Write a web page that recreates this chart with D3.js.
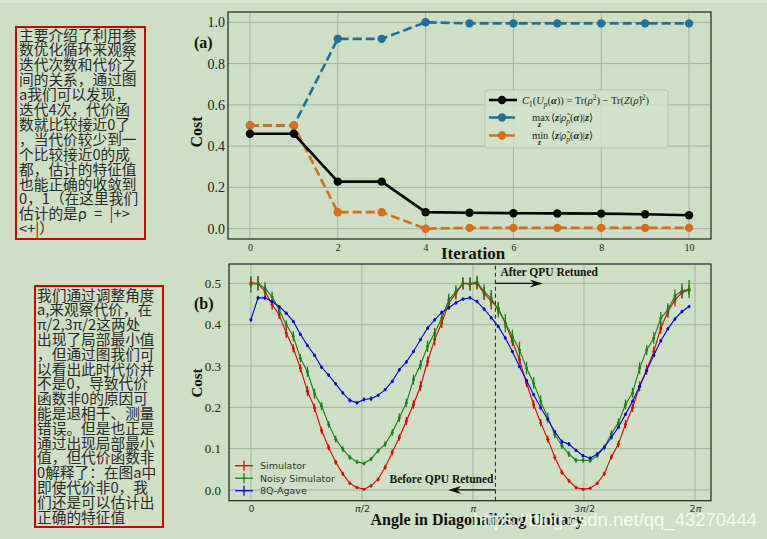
<!DOCTYPE html>
<html>
<head>
<meta charset="utf-8">
<script src="https://cdn.jsdelivr.net/npm/d3@7"></script>
<style>
  html, body { margin: 0; padding: 0; background: #cedfc5; }
  svg { display: block; }
</style>
</head>
<body>
<div id="chart"></div>
<script>
// ---- panel (a): cost vs iteration ----
const iterations = [0, 1, 2, 3, 4, 5, 6, 7, 8, 9, 10];
const costC1 = [0.46, 0.46, 0.228, 0.228, 0.080, 0.077, 0.075, 0.074, 0.073, 0.070, 0.065];
const costMax = [0.50, 0.50, 0.92, 0.92, 1.00, 0.995, 0.995, 0.995, 0.995, 0.995, 0.995];
const costMin = [0.50, 0.50, 0.080, 0.080, 0.000, 0.004, 0.004, 0.004, 0.004, 0.004, 0.004];
const xTicksA = [0, 2, 4, 6, 8, 10];
const yTicksA = [0, 0.2, 0.4, 0.6, 0.8, 1.0];

// ---- panel (b): cost vs angle ----
const angles = [0, 0.1, 0.2, 0.3, 0.4, 0.5, 0.6, 0.7, 0.8, 0.9, 1.0, 1.1, 1.2, 1.3, 1.4, 1.5,
  1.6, 1.7, 1.8, 1.9, 2.0, 2.1, 2.2, 2.3, 2.4, 2.5, 2.6, 2.7, 2.8, 2.9, 3.0, 3.1, 3.2, 3.3,
  3.4, 3.5, 3.6, 3.7, 3.8, 3.9, 4.0, 4.1, 4.2, 4.3, 4.4, 4.5, 4.6, 4.7, 4.8, 4.9, 5.0, 5.1,
  5.2, 5.3, 5.4, 5.5, 5.6, 5.7, 5.8, 5.9, 6.0, 6.1, 6.2];
const simCost = [0.502, 0.500, 0.480, 0.449, 0.424, 0.380, 0.343, 0.295, 0.239, 0.199, 0.144,
  0.103, 0.067, 0.039, 0.016, 0.006, 0.002, 0.010, 0.026, 0.055, 0.091, 0.127, 0.167, 0.207,
  0.251, 0.311, 0.364, 0.404, 0.452, 0.476, 0.500, 0.498, 0.500, 0.476, 0.457, 0.440, 0.404,
  0.360, 0.315, 0.259, 0.207, 0.163, 0.123, 0.079, 0.043, 0.022, 0.006, 0.002, 0.004, 0.016,
  0.039, 0.080, 0.111, 0.159, 0.199, 0.251, 0.291, 0.335, 0.392, 0.432, 0.460, 0.478, 0.484];
const simErr = [0.012, 0.018, 0.015, 0.012, 0.010, 0.012, 0.010, 0.010, 0.012, 0.010, 0.008,
  0.007, 0.006, 0.005, 0.004, 0.003, 0.003, 0.004, 0.005, 0.006, 0.007, 0.008, 0.010, 0.010,
  0.012, 0.012, 0.014, 0.012, 0.015, 0.015, 0.014, 0.016, 0.015, 0.016, 0.020, 0.015, 0.012,
  0.012, 0.010, 0.010, 0.010, 0.009, 0.008, 0.007, 0.006, 0.005, 0.004, 0.003, 0.003, 0.004,
  0.005, 0.006, 0.008, 0.010, 0.010, 0.012, 0.012, 0.012, 0.014, 0.015, 0.015, 0.014, 0.012];
const noisyCost = [0.498, 0.500, 0.488, 0.468, 0.436, 0.400, 0.372, 0.319, 0.286, 0.233, 0.203,
  0.159, 0.123, 0.099, 0.079, 0.068, 0.064, 0.075, 0.095, 0.111, 0.139, 0.175, 0.211, 0.267,
  0.303, 0.348, 0.380, 0.416, 0.460, 0.480, 0.500, 0.500, 0.503, 0.480, 0.464, 0.436, 0.404,
  0.372, 0.339, 0.295, 0.259, 0.215, 0.175, 0.135, 0.107, 0.087, 0.072, 0.072, 0.071, 0.083,
  0.103, 0.136, 0.163, 0.207, 0.235, 0.295, 0.339, 0.368, 0.416, 0.436, 0.470, 0.482, 0.486];
const noisyErr = [0.020, 0.016, 0.015, 0.012, 0.012, 0.010, 0.012, 0.010, 0.012, 0.012, 0.010,
  0.008, 0.008, 0.007, 0.006, 0.005, 0.005, 0.005, 0.006, 0.007, 0.008, 0.010, 0.010, 0.012,
  0.012, 0.014, 0.012, 0.014, 0.015, 0.016, 0.015, 0.015, 0.016, 0.018, 0.020, 0.018, 0.022,
  0.016, 0.020, 0.015, 0.014, 0.014, 0.012, 0.010, 0.008, 0.007, 0.006, 0.006, 0.005, 0.006,
  0.007, 0.008, 0.010, 0.012, 0.012, 0.014, 0.012, 0.014, 0.015, 0.016, 0.016, 0.018, 0.022];
const agaveCost = [0.412, 0.465, 0.465, 0.456, 0.444, 0.428, 0.408, 0.377, 0.350, 0.326, 0.297,
  0.278, 0.257, 0.235, 0.217, 0.211, 0.219, 0.221, 0.229, 0.243, 0.263, 0.291, 0.310, 0.335,
  0.364, 0.392, 0.412, 0.430, 0.441, 0.453, 0.462, 0.465, 0.456, 0.438, 0.417, 0.396, 0.368,
  0.335, 0.299, 0.265, 0.231, 0.199, 0.171, 0.141, 0.117, 0.111, 0.096, 0.083, 0.077, 0.087,
  0.103, 0.127, 0.152, 0.183, 0.215, 0.251, 0.289, 0.326, 0.361, 0.390, 0.414, 0.432, 0.444];
const agaveErr = [0.004, 0.005, 0.005, 0.004, 0.004, 0.004, 0.004, 0.004, 0.004, 0.004, 0.004,
  0.004, 0.004, 0.004, 0.005, 0.004, 0.005, 0.006, 0.004, 0.004, 0.004, 0.004, 0.004, 0.004,
  0.004, 0.004, 0.004, 0.004, 0.004, 0.004, 0.004, 0.004, 0.004, 0.004, 0.004, 0.004, 0.004,
  0.004, 0.004, 0.004, 0.004, 0.004, 0.004, 0.004, 0.005, 0.005, 0.004, 0.004, 0.004, 0.004,
  0.004, 0.004, 0.004, 0.004, 0.004, 0.004, 0.004, 0.004, 0.004, 0.004, 0.004, 0.004, 0.004];
const xTicksB = [0, Math.PI / 2, Math.PI, 3 * Math.PI / 2, 2 * Math.PI];
const xTickLabelsB = ['0', 'π/2', 'π', '3π/2', '2π'];
const yTicksB = [0, 0.1, 0.2, 0.3, 0.4, 0.5];
const retuneAngle = 3.46;

// ---- side notes ----
const noteA = [
  '主要介绍了利用参', '数优化循环来观察', '迭代次数和代价之', '间的关系，通过图',
  'a我们可以发现，', '迭代4次，代价函', '数就比较接近0了', '，当代价较少到一',
  '个比较接近0的成', '都，估计的特征值', '也能正确的收敛到', '0，1（在这里我们',
  '估计的是ρ\u2002=\u2002|+>', '<+|）'
];
const noteB = [
  '我们通过调整角度', 'a,来观察代价，在', 'π/2,3π/2这两处', '出现了局部最小值',
  '，但通过图我们可', '以看出此时代价并', '不是0，导致代价', '函数非0的原因可',
  '能是退相干、测量', '错误。但是也正是', '通过出现局部最小', '值，但代价函数非',
  '0解释了：在图a中', '即使代价非0，我', '们还是可以估计出', '正确的特征值'
];

const W = 767, H = 539;
const BG = '#cedfc5';
const GRID = '#a3b29d';
const SERIF = '"Liberation Serif", "DejaVu Serif", serif';
const SANS = '"DejaVu Sans", sans-serif';
const CJK = '"Noto Sans CJK SC", sans-serif';
const BLUE = '#21709c', ORANGE = '#d66e1b';
const RED = '#e00000', GREEN = '#158015', DBLUE = '#0000e0';

const svg = d3.select('#chart').append('svg')
  .attr('width', W)
  .attr('height', H);

svg.append('rect').attr('width', W).attr('height', H).attr('fill', BG);
svg.append('rect').attr('width', W).attr('height', 3).attr('fill', '#dde7d6');

// Note boxes
function noteBox(box, lines, tx, ty, lh) {
  svg.append('rect')
    .attr('x', box[0]).attr('y', box[1])
    .attr('width', box[2]).attr('height', box[3])
    .attr('fill', 'none')
    .attr('stroke', '#d10000')
    .attr('stroke-width', 2);
  const t = svg.append('text')
    .attr('font-family', CJK)
    .attr('font-size', 14.7)
    .attr('fill', '#2a2a2a')
    .style('white-space', 'pre');
  lines.forEach((ln, i) => {
    const row = t.append('tspan').attr('x', tx).attr('y', ty + i * lh);
    ln.split('|').forEach((part, j) => {
      if (j > 0) row.append('tspan').attr('fill', '#c00000').text('|');
      if (part) row.append('tspan').text(part);
    });
  });
}
noteBox([16, 27, 129, 212], noteA, 19, 40.5, 14.9);
noteBox([35, 286, 128, 241], noteB, 37, 300.5, 14.8);

// ================= Panel (a) =================
const xA = d3.scaleLinear().domain([-0.5, 10.5]).range([228, 711]);
const yA = d3.scaleLinear().domain([-0.05, 1.05]).range([239, 12]);

const gA = svg.append('g');

gA.selectAll('.gv').data(xTicksA).enter().append('line')
  .attr('x1', d => xA(d)).attr('x2', d => xA(d))
  .attr('y1', yA.range()[0]).attr('y2', yA.range()[1])
  .attr('stroke', GRID).attr('stroke-width', 1);
gA.selectAll('.gh').data(yTicksA).enter().append('line')
  .attr('x1', xA.range()[0]).attr('x2', xA.range()[1])
  .attr('y1', d => yA(d)).attr('y2', d => yA(d))
  .attr('stroke', GRID).attr('stroke-width', 1);

gA.append('g')
  .attr('transform', `translate(${xA.range()[0]},0)`)
  .call(d3.axisLeft(yA).tickValues(yTicksA).tickFormat(d3.format('.1f')).tickSize(0).tickPadding(3))
  .call(g => g.select('.domain').remove())
  .call(g => g.selectAll('text').attr('font-family', SERIF).style('font-size', '14px').attr('fill', '#222'));

gA.append('g')
  .attr('transform', `translate(0,${yA.range()[0]})`)
  .call(d3.axisBottom(xA).tickValues(xTicksA).tickSize(0).tickPadding(5))
  .call(g => g.select('.domain').remove())
  .call(g => g.selectAll('text').attr('font-family', SERIF).style('font-size', '10px').attr('fill', '#222'));

const seriesA = [
  { vals: costMax, color: BLUE, dash: '9,4' },
  { vals: costMin, color: ORANGE, dash: '9,4' },
  { vals: costC1, color: '#000', dash: null }
];
const lineA = d3.line().x((d, i) => xA(iterations[i])).y(d => yA(d));
seriesA.forEach(s => {
  gA.append('path')
    .datum(s.vals)
    .attr('d', lineA)
    .attr('fill', 'none')
    .attr('stroke', s.color)
    .attr('stroke-width', 2.6)
    .attr('stroke-dasharray', s.dash);
  gA.selectAll(null).data(s.vals).enter().append('circle')
    .attr('cx', (d, i) => xA(iterations[i]))
    .attr('cy', d => yA(d))
    .attr('r', 4.2)
    .attr('fill', s.color);
});

gA.append('rect')
  .attr('x', xA.range()[0]).attr('y', yA.range()[1])
  .attr('width', xA.range()[1] - xA.range()[0])
  .attr('height', yA.range()[0] - yA.range()[1])
  .attr('fill', 'none').attr('stroke', '#222').attr('stroke-width', 1.2);

gA.append('text')
  .attr('x', 473).attr('y', 259)
  .attr('text-anchor', 'middle')
  .attr('font-family', SERIF).attr('font-weight', 'bold').attr('font-size', 17)
  .attr('fill', '#111').text('Iteration');
gA.append('text')
  .attr('transform', 'translate(202,132) rotate(-90)')
  .attr('text-anchor', 'middle')
  .attr('font-family', SERIF).attr('font-weight', 'bold').attr('font-size', 16)
  .attr('fill', '#111').text('Cost');
gA.append('text')
  .attr('x', 194).attr('y', 48)
  .attr('font-family', SERIF).attr('font-weight', 'bold').attr('font-size', 16)
  .attr('fill', '#111').text('(a)');

// math-ish text helper
function mathText(g, x, y, segs, size) {
  const t = g.append('text').attr('x', x).attr('y', y)
    .attr('font-family', SERIF).attr('font-size', size).attr('fill', '#222');
  let cur = 0;
  segs.forEach(s => {
    const shift = s.s === 'sub' ? size * 0.3 : s.s === 'sup' ? -size * 0.38 : 0;
    t.append('tspan')
      .attr('dy', shift - cur)
      .attr('font-style', s.i ? 'italic' : null)
      .attr('font-weight', s.b ? 'bold' : null)
      .attr('font-size', s.s ? size * 0.7 : null)
      .text(s.t);
    cur = shift;
  });
  return t;
}

// legend (a)
const legA = gA.append('g');
legA.append('rect')
  .attr('x', 485).attr('y', 90).attr('width', 183).attr('height', 58).attr('rx', 3)
  .attr('fill', '#d3e2ca').attr('fill-opacity', 0.8)
  .attr('stroke', '#b8c5b0').attr('stroke-width', 1);
const legRows = [
  { color: '#000', dash: null, y: 100 },
  { color: BLUE, dash: '11,4', y: 117.5 },
  { color: ORANGE, dash: '11,4', y: 135.5 }
];
legRows.forEach(r => {
  legA.append('line')
    .attr('x1', 489).attr('x2', 517).attr('y1', r.y).attr('y2', r.y)
    .attr('stroke', r.color).attr('stroke-width', 2.6)
    .attr('stroke-dasharray', r.dash);
  legA.append('circle').attr('cx', 502).attr('cy', r.y).attr('r', 4.2).attr('fill', r.color);
});
mathText(legA, 522, 103.5, [
  { t: 'C', i: 1 }, { t: '1', s: 'sub' }, { t: '(' }, { t: 'U', i: 1 }, { t: 'p', i: 1, s: 'sub' },
  { t: '(' }, { t: 'α', i: 1, b: 1 }, { t: ')) = Tr(' }, { t: 'ρ', i: 1 }, { t: '2', s: 'sup' },
  { t: ') − Tr(' }, { t: 'Z', i: 1 }, { t: '(' }, { t: 'ρ̃', i: 1 }, { t: ')' }, { t: '2', s: 'sup' }, { t: ')' }
], 10.5);
[['max', 120.5], ['min', 139]].forEach(([op, y]) => {
  legA.append('text').attr('x', 532).attr('y', y)
    .attr('font-family', SERIF).attr('font-size', 10.5).attr('fill', '#222').text(op);
  legA.append('text').attr('x', 538).attr('y', y + 6)
    .attr('font-family', SERIF).attr('font-size', 7.5).attr('font-style', 'italic')
    .attr('font-weight', 'bold').attr('fill', '#222').text('z');
  mathText(legA, 551, y, [
    { t: '⟨' }, { t: 'z', i: 1, b: 1 }, { t: '|' }, { t: 'ρ̃', i: 1 }, { t: 'p', i: 1, s: 'sub' },
    { t: '(' }, { t: 'α', i: 1, b: 1 }, { t: ')|' }, { t: 'z', i: 1, b: 1 }, { t: '⟩' }
  ], 10.5);
});

// ================= Panel (b) =================
const xB = d3.scaleLinear().domain([-0.31, 6.51]).range([229, 711]);
const yB = d3.scaleLinear().domain([-0.026, 0.547]).range([500.7, 264]);

const gB = svg.append('g');

gB.selectAll('.gv').data(xTicksB).enter().append('line')
  .attr('x1', d => xB(d)).attr('x2', d => xB(d))
  .attr('y1', yB.range()[0]).attr('y2', yB.range()[1])
  .attr('stroke', GRID).attr('stroke-width', 1);
gB.selectAll('.gh').data(yTicksB).enter().append('line')
  .attr('x1', xB.range()[0]).attr('x2', xB.range()[1])
  .attr('y1', d => yB(d)).attr('y2', d => yB(d))
  .attr('stroke', GRID).attr('stroke-width', 1);

gB.append('g')
  .attr('transform', `translate(${xB.range()[0]},0)`)
  .call(d3.axisLeft(yB).tickValues(yTicksB).tickFormat(d3.format('.1f')).tickSize(0).tickPadding(8))
  .call(g => g.select('.domain').remove())
  .call(g => g.selectAll('text').attr('font-family', SERIF).style('font-size', '13px').attr('fill', '#222'));

const axB = gB.append('g')
  .attr('transform', `translate(0,${yB.range()[0]})`)
  .call(d3.axisBottom(xB).tickValues(xTicksB).tickFormat('').tickSize(0))
  .call(g => g.select('.domain').remove());
axB.selectAll('.tick').each(function (d, i) {
  const t = d3.select(this).select('text')
    .attr('y', 11).attr('dy', null)
    .attr('font-family', SANS).style('font-size', '9.5px').attr('fill', '#333');
  xTickLabelsB[i].split(/(π)/).forEach(p => {
    if (p) t.append('tspan').attr('font-style', p === 'π' ? 'italic' : null).text(p);
  });
});

// retune marker
gB.append('line')
  .attr('x1', xB(retuneAngle)).attr('x2', xB(retuneAngle))
  .attr('y1', yB.range()[0]).attr('y2', yB.range()[1])
  .attr('stroke', '#333').attr('stroke-width', 1.1).attr('stroke-dasharray', '4,3');

const seriesB = [
  { vals: simCost, err: simErr, color: RED, name: 'Simulator' },
  { vals: noisyCost, err: noisyErr, color: GREEN, name: 'Noisy Simulator' },
  { vals: agaveCost, err: agaveErr, color: DBLUE, name: '8Q-Agave' }
];
const lineB = d3.line().x((d, i) => xB(angles[i])).y(d => yB(d));
seriesB.forEach(s => {
  gB.append('path')
    .datum(s.vals)
    .attr('d', lineB)
    .attr('fill', 'none')
    .attr('stroke', s.color)
    .attr('stroke-width', 1.1);
  gB.selectAll(null).data(s.vals).enter().append('line')
    .attr('x1', (d, i) => xB(angles[i])).attr('x2', (d, i) => xB(angles[i]))
    .attr('y1', (d, i) => yB(d - s.err[i])).attr('y2', (d, i) => yB(d + s.err[i]))
    .attr('stroke', s.color).attr('stroke-width', 1.3);
  gB.selectAll(null).data(s.vals).enter().append('circle')
    .attr('cx', (d, i) => xB(angles[i]))
    .attr('cy', d => yB(d))
    .attr('r', 1.5)
    .attr('fill', s.color);
});

// annotation arrows
function arrow(x1, x2, y) {
  const dir = Math.sign(x2 - x1);
  gB.append('line')
    .attr('x1', x1).attr('x2', x2 - dir * 6).attr('y1', y).attr('y2', y)
    .attr('stroke', '#111').attr('stroke-width', 1.3);
  gB.append('path')
    .attr('d', `M${x2},${y} L${x2 - dir * 13},${y - 4} L${x2 - dir * 9},${y} L${x2 - dir * 13},${y + 4} Z`)
    .attr('fill', '#111');
}
arrow(xB(retuneAngle), xB(4.13), yB(0.5));
arrow(xB(retuneAngle), xB(2.79), yB(0));
gB.append('text')
  .attr('x', xB(retuneAngle) + 5).attr('y', 275.5)
  .attr('font-family', SERIF).attr('font-weight', 'bold').attr('font-size', 11.5)
  .attr('fill', '#111').text('After QPU Retuned');
gB.append('text')
  .attr('x', xB(retuneAngle) - 2).attr('y', 483)
  .attr('text-anchor', 'end')
  .attr('font-family', SERIF).attr('font-weight', 'bold').attr('font-size', 11.5)
  .attr('fill', '#111').text('Before QPU Retuned');

// legend (b)
seriesB.forEach((s, i) => {
  const y = 465.7 + i * 12.5;
  gB.append('line').attr('x1', 235).attr('x2', 253).attr('y1', y).attr('y2', y)
    .attr('stroke', s.color).attr('stroke-width', 1.3);
  gB.append('line').attr('x1', 244).attr('x2', 244).attr('y1', y - 5).attr('y2', y + 5)
    .attr('stroke', s.color).attr('stroke-width', 1.3);
  gB.append('text').attr('x', 260).attr('y', y + 3.5)
    .attr('font-family', SANS).attr('font-size', 9.5).attr('fill', '#333').text(s.name);
});

gB.append('rect')
  .attr('x', xB.range()[0]).attr('y', yB.range()[1])
  .attr('width', xB.range()[1] - xB.range()[0])
  .attr('height', yB.range()[0] - yB.range()[1])
  .attr('fill', 'none').attr('stroke', '#222').attr('stroke-width', 1.2);

gB.append('text')
  .attr('x', 477).attr('y', 524.5)
  .attr('text-anchor', 'middle')
  .attr('font-family', SERIF).attr('font-weight', 'bold').attr('font-size', 16)
  .attr('fill', '#111').text('Angle in Diagonalizing Unitary');
gB.append('text')
  .attr('transform', 'translate(202,383) rotate(-90)')
  .attr('text-anchor', 'middle')
  .attr('font-family', SERIF).attr('font-weight', 'bold').attr('font-size', 15)
  .attr('fill', '#111').text('Cost');
gB.append('text')
  .attr('x', 194).attr('y', 308.5)
  .attr('font-family', SERIF).attr('font-weight', 'bold').attr('font-size', 16)
  .attr('fill', '#111').text('(b)');

// watermark
svg.append('text')
  .attr('x', 757).attr('y', 526)
  .attr('text-anchor', 'end')
  .attr('font-family', '"Liberation Sans", Arial, sans-serif')
  .attr('font-size', 18.5)
  .attr('fill', '#ffffff').attr('fill-opacity', 0.85)
  .text('https://blog.csdn.net/qq_43270444');
</script>
</body>
</html>
